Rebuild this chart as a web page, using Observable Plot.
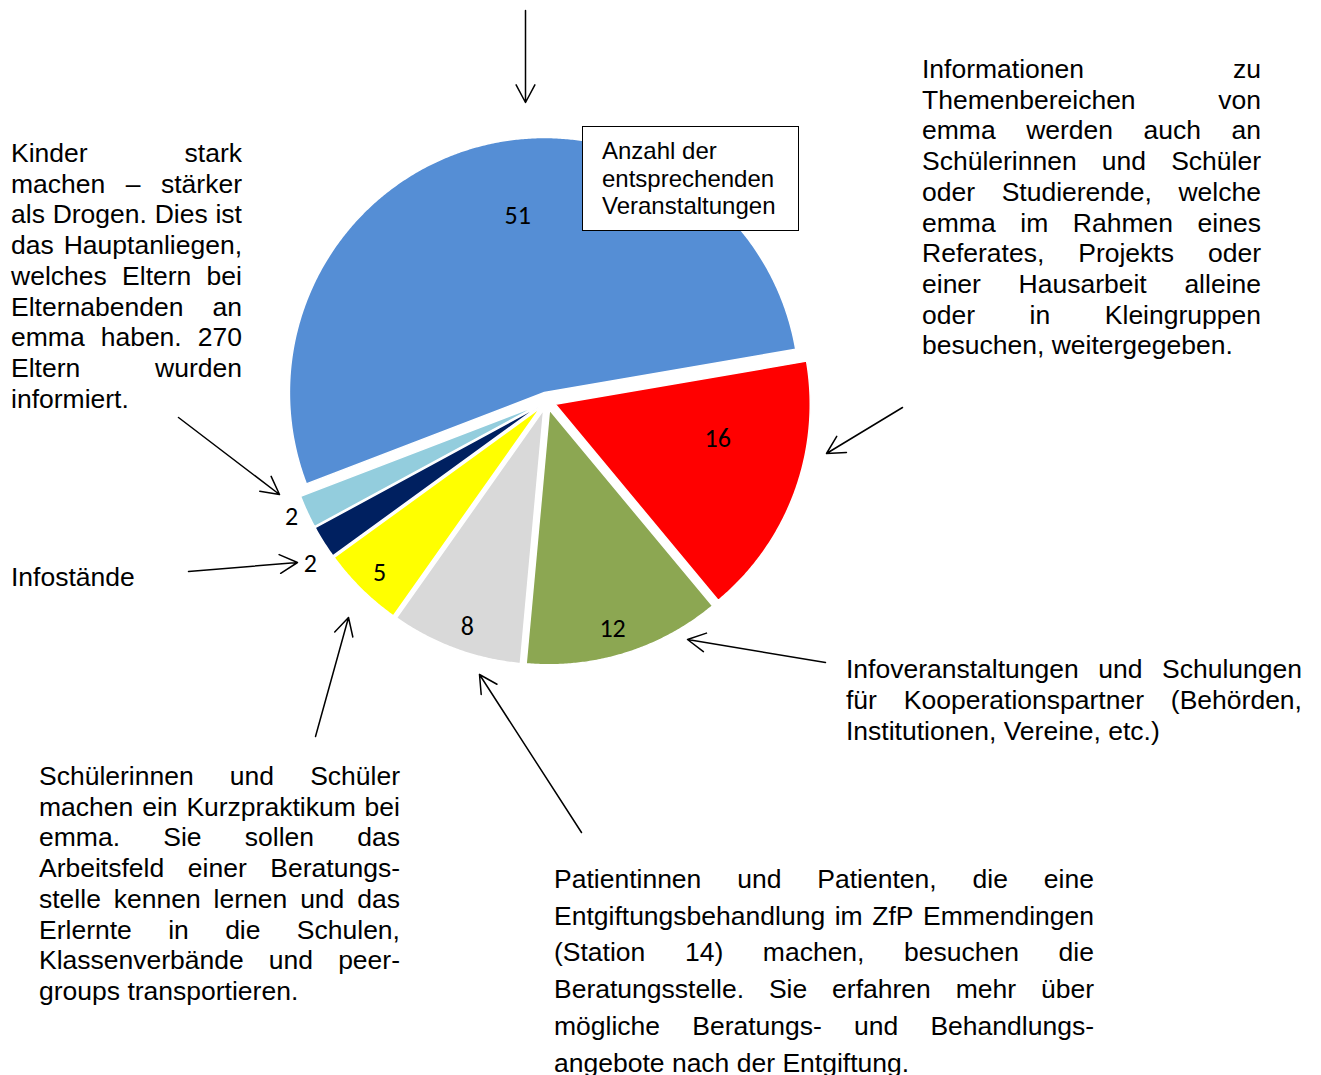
<!DOCTYPE html>
<html>
<head>
<meta charset="utf-8">
<script src="https://cdn.jsdelivr.net/npm/d3@7"></script>
<script src="https://cdn.jsdelivr.net/npm/@observablehq/plot@0.6"></script>
<style>
  body { margin: 0; background: #fff; }
  #wrap { position: relative; width: 1321px; height: 1075px; overflow: hidden;
          font-family: "Liberation Sans", Arial, sans-serif; color: #000; }
  #chart { position: absolute; left: 0; top: 0; }
  .block { position: absolute; font-size: 26.5px; }
  .jline { display: flex; justify-content: space-between; white-space: nowrap; }
  .lline { white-space: nowrap; }
  #box { position: absolute; box-sizing: border-box; border: 1.5px solid #000; background: #fff;
         font-size: 24px; line-height: 27.5px; }
</style>
</head>
<body>
<div id="wrap"><div id="chart"></div></div>
<script>
// ---------------- data ----------------
const categories = [
  "Veranstaltungen (Hauptgruppe)",
  "Referate, Projekte, Hausarbeiten",
  "Kooperationspartner",
  "Patientinnen und Patienten ZfP",
  "Kurzpraktikum",
  "Infostände",
  "Elternabende"
];
const values = [51, 16, 12, 8, 5, 2, 2];
const labels = ["51", "16", "12", "8", "5", "2", "2"];

// ---------------- texts ----------------
const textKinder = ["Kinder stark", "machen – stärker", "als Drogen. Dies ist", "das Hauptanliegen,",
  "welches Eltern bei", "Elternabenden an", "emma haben. 270", "Eltern wurden", "informiert."];
const textInformationen = ["Informationen zu", "Themenbereichen von", "emma werden auch an",
  "Schülerinnen und Schüler", "oder Studierende, welche", "emma im Rahmen eines",
  "Referates, Projekts oder", "einer Hausarbeit alleine", "oder in Kleingruppen",
  "besuchen, weitergegeben."];
const textInfostaende = ["Infostände"];
const textPraktikum = ["Schülerinnen und Schüler", "machen ein Kurzpraktikum bei",
  "emma. Sie sollen das", "Arbeitsfeld einer Beratungs-", "stelle kennen lernen und das",
  "Erlernte in die Schulen,", "Klassenverbände und peer-", "groups transportieren."];
const textKooperation = ["Infoveranstaltungen und Schulungen", "für Kooperationspartner (Behörden,",
  "Institutionen, Vereine, etc.)"];
const textPatienten = ["Patientinnen und Patienten, die eine", "Entgiftungsbehandlung im ZfP Emmendingen",
  "(Station 14) machen, besuchen die", "Beratungsstelle. Sie erfahren mehr über",
  "mögliche Beratungs- und Behandlungs-", "angebote nach der Entgiftung."];
const textBox = ["Anzahl der", "entsprechenden", "Veranstaltungen"];

// ---------------- style / layout ----------------
const W = 1321, H = 1075;
const colors = ["#558ED5", "#FF0000", "#8CA752", "#D9D9D9", "#FFFF00", "#002060", "#93CDDD"];
const pieLayout = {cx: 546.3, cy: 400.7, r: 255, startDeg: 249, explode: 9};
// label placement: polar (degrees clockwise from 12 o'clock, px) from each slice's vertex
const labelPlacement = [
  {deg: 351.4, r: 179}, {deg: 101.9, r: 166}, {deg: 163.9, r: 227.6}, {deg: 199.4, r: 229.8},
  {deg: 224.3, r: 230.5}, {deg: 235.45, r: 277.7}, {deg: 245.7, r: 271}
];
const annotationArrows = [
  {x1: 525, y1: 10, x2: 525, y2: 102},
  {x1: 902, y1: 407, x2: 826, y2: 453},
  {x1: 825, y1: 662, x2: 687, y2: 639},
  {x1: 581, y1: 832, x2: 479, y2: 674},
  {x1: 315, y1: 736, x2: 348, y2: 617},
  {x1: 188, y1: 571, x2: 297, y2: 562},
  {x1: 178, y1: 417, x2: 279, y2: 494}
];
const textBlocks = [
  {lines: textKinder, left: 11, top: 138, width: 231, lh: 30.7},
  {lines: textInformationen, left: 922, top: 54, width: 339, lh: 30.7},
  {lines: textInfostaende, left: 11, top: 562, width: 200, lh: 30.7},
  {lines: textPraktikum, left: 39, top: 761, width: 361, lh: 30.7},
  {lines: textKooperation, left: 846, top: 654, width: 456, lh: 31},
  {lines: textPatienten, left: 554, top: 861, width: 540, lh: 36.7}
];
const boxLayout = {left: 582, top: 126, width: 217, height: 105, padLeft: 19, padTop: 10};

// ---------------- geometry via d3.pie ----------------
const rad = Math.PI / 180;
const start = pieLayout.startDeg * rad;
const arcs = d3.pie().sort(null).value(d => d).startAngle(start).endAngle(start + 2 * Math.PI)(values);

function polar(ox, oy, a, r) { return {x: ox + r * Math.sin(a), y: oy - r * Math.cos(a)}; }

const slices = arcs.map((a, i) => {
  const mid = (a.startAngle + a.endAngle) / 2;
  const v = polar(pieLayout.cx, pieLayout.cy, mid, pieLayout.explode);
  const pts = [{x: v.x, y: v.y}];
  const n = Math.max(4, Math.ceil((a.endAngle - a.startAngle) / (0.4 * rad)));
  for (let k = 0; k <= n; k++) {
    const t = a.startAngle + (a.endAngle - a.startAngle) * k / n;
    pts.push(polar(v.x, v.y, t, pieLayout.r));
  }
  pts.push({x: v.x, y: v.y});
  return {pts, vertex: v, color: colors[i], category: categories[i]};
});

const labelData = slices.map((s, i) => {
  const p = polar(s.vertex.x, s.vertex.y, labelPlacement[i].deg * rad, labelPlacement[i].r);
  return {x: p.x, y: p.y, text: labels[i]};
});

const marks = slices.map(s => Plot.line(s.pts, {
  x: "x", y: "y", fill: s.color, stroke: "white", strokeWidth: 1.5, strokeLinejoin: "round", curve: "linear"
}));
marks.push(Plot.text(labelData, {x: "x", y: "y", text: "text", fontSize: 26,
  fontFamily: "Carlito, Calibri, Lato, sans-serif", fill: "black"}));
marks.push(Plot.arrow(annotationArrows, {x1: "x1", y1: "y1", x2: "x2", y2: "y2",
  stroke: "black", strokeWidth: 1.5, headLength: 20, headAngle: 56}));

const chart = Plot.plot({
  width: W, height: H, margin: 0,
  x: {type: "linear", domain: [0, W], range: [0, W], axis: null},
  y: {type: "linear", domain: [0, H], range: [0, H], axis: null},
  style: {background: "transparent", overflow: "visible"},
  marks
});
document.getElementById("chart").appendChild(chart);

// ---------------- text overlays ----------------
const wrap = document.getElementById("wrap");
for (const b of textBlocks) {
  const div = document.createElement("div");
  div.className = "block";
  div.style.left = b.left + "px";
  div.style.top = b.top + "px";
  div.style.width = b.width + "px";
  div.style.lineHeight = b.lh + "px";
  b.lines.forEach((ln, i) => {
    const d = document.createElement("div");
    const last = i === b.lines.length - 1;
    if (last) {
      d.className = "lline";
      d.textContent = ln;
    } else {
      d.className = "jline";
      ln.split(" ").forEach(w => {
        const s = document.createElement("span");
        s.textContent = w;
        d.appendChild(s);
      });
    }
    div.appendChild(d);
  });
  wrap.appendChild(div);
}
const box = document.createElement("div");
box.id = "box";
box.style.left = boxLayout.left + "px";
box.style.top = boxLayout.top + "px";
box.style.width = boxLayout.width + "px";
box.style.height = boxLayout.height + "px";
box.style.paddingLeft = boxLayout.padLeft + "px";
box.style.paddingTop = boxLayout.padTop + "px";
textBox.forEach(t => {
  const d = document.createElement("div");
  d.textContent = t;
  box.appendChild(d);
});
wrap.appendChild(box);
</script>
</body>
</html>
